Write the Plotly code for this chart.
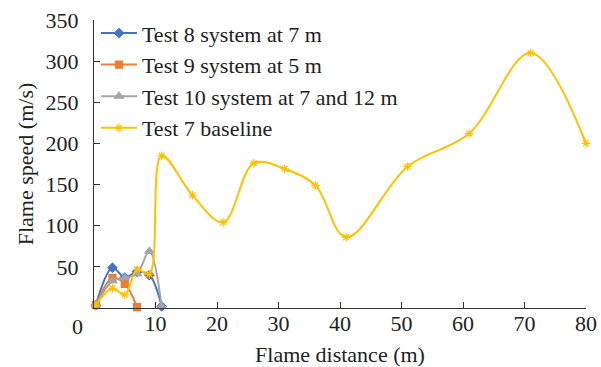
import plotly.graph_objects as go

# Data
x_short = [0.3, 3, 5, 7, 9, 11]
test8_y = [3.4, 49, 37, 44, 40, 2]
x_test9 = [0.3, 3, 5, 7]
test9_y = [3.4, 36.6, 29.4, 1]
test10_y = [3.4, 33, 36.6, 41.5, 69, 2]
x_base = [0.3, 3, 5, 7, 9, 11, 16, 21, 26, 31, 36, 41, 51, 61, 71, 80]
base_y = [3.4, 24, 16, 47, 41, 185, 137, 104, 176, 169, 149, 86, 172, 212, 310, 200]

names = ["Test 8 system at 7 m", "Test 9 system at 5 m",
         "Test 10 system at 7 and 12 m", "Test 7 baseline"]
y_ticks = [50, 100, 150, 200, 250, 300, 350]
x_ticks = [10, 20, 30, 40, 50, 60, 70, 80]

FONT = "Liberation Serif, Times New Roman, serif"
FS = 22

fig = go.Figure()
series = [
    (x_short, test8_y, "#4472C4", "diamond", 7),
    (x_test9, test9_y, "#ED7D31", "square", 7),
    (x_short, test10_y, "#A5A5A5", "triangle-up", 8),
    (x_base, base_y, "#FFC000", "asterisk-open", 7),
]
for i, (xs, ys, col, sym, ms) in enumerate(series):
    fig.add_trace(go.Scatter(
        x=xs, y=ys, name=names[i], mode="lines+markers",
        line=dict(color=col, width=2, shape="spline", smoothing=1.0),
        marker=dict(symbol=sym, size=ms, color=col,
                    line=dict(color=col, width=1.2)),
        cliponaxis=False,
    ))

fig.update_layout(
    width=601, height=367,
    margin=dict(l=94, r=15, t=20, b=58.5, autoexpand=False),
    paper_bgcolor="white", plot_bgcolor="white",
    font=dict(family=FONT, size=FS, color="#222"),
    showlegend=True,
    legend=dict(x=0.004, y=1.027, xanchor="left", yanchor="top",
                bgcolor="rgba(0,0,0,0)", font=dict(size=FS),
                itemwidth=36),
    xaxis=dict(range=[0, 80], tickvals=x_ticks, ticks="inside", ticklen=6,
               tickcolor="#333", showline=True, linecolor="#333", linewidth=1.3,
               showgrid=False, zeroline=False, tickfont=dict(size=FS),
               ticklabelstandoff=-5, automargin=False, ticklabeloverflow="allow",
               title=dict(text="Flame distance (m)", font=dict(size=FS), standoff=16)),
    yaxis=dict(range=[0, 350], tickvals=y_ticks, ticks="inside", ticklen=6,
               tickcolor="#333", showline=True, linecolor="#333", linewidth=1.3,
               showgrid=False, zeroline=False, tickfont=dict(size=FS),
               ticklabelstandoff=10, automargin=False, ticklabeloverflow="allow",
               title=dict(text="Flame speed (m/s)", font=dict(size=FS), standoff=5)),
)

fig.add_annotation(text="0", x=(77 - 94) / 492, xref="paper", y=0, yref="paper",
                   yanchor="top", xanchor="center", yshift=-4,
                   showarrow=False, font=dict(size=FS, family=FONT, color="#222"))

fig.write_html(
    "out.html",
    config={"displayModeBar": False},
    post_script="document.body.style.margin='0';document.body.style.overflow='hidden';",
)
